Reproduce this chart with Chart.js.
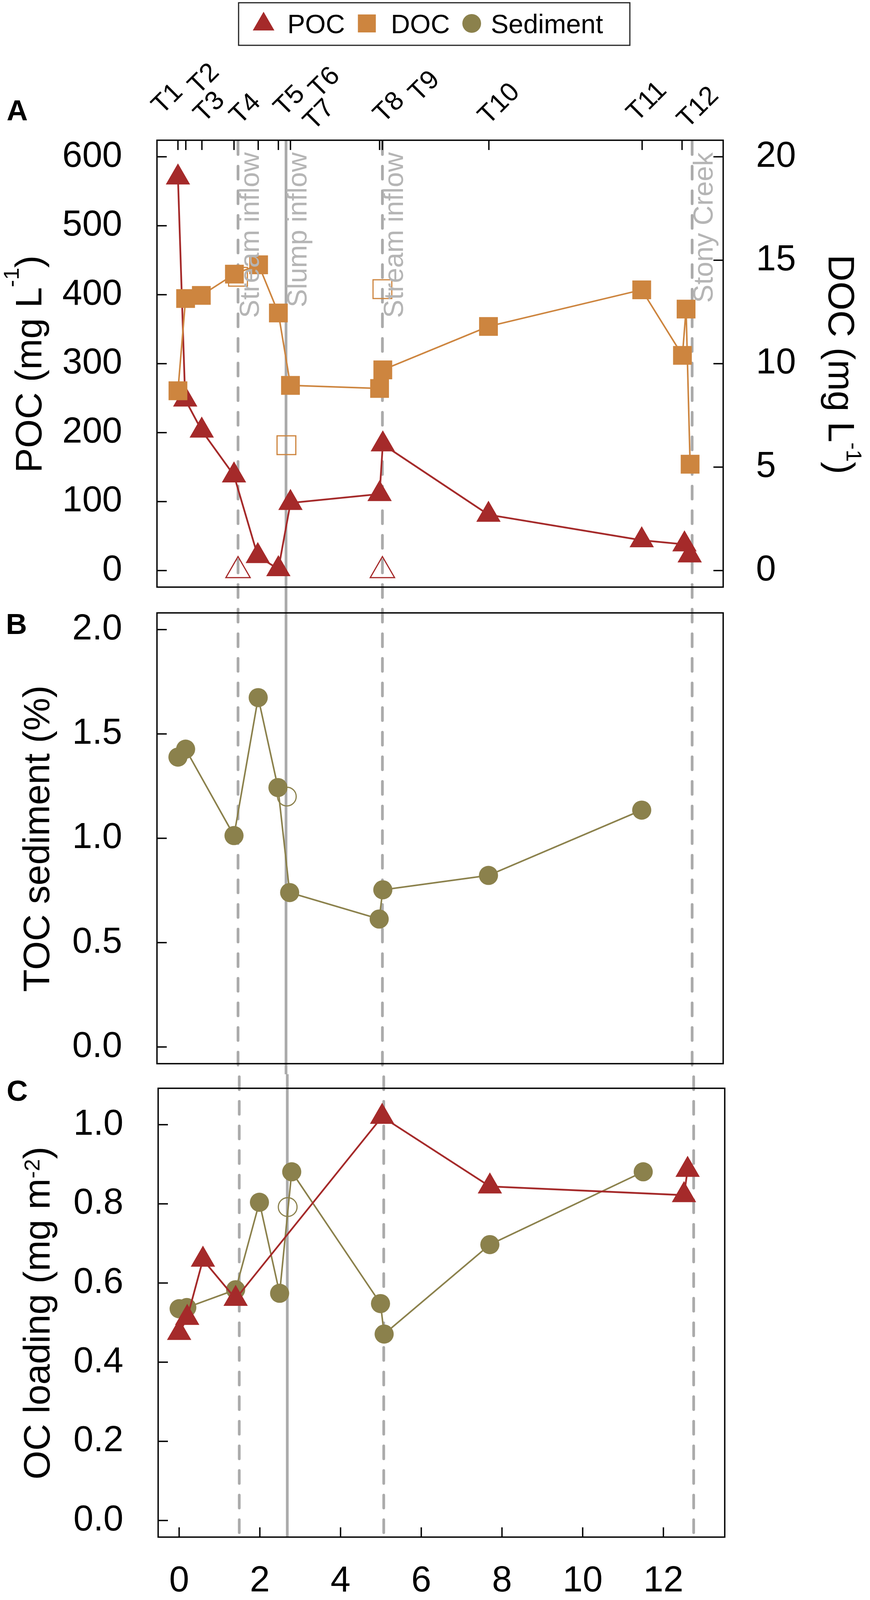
<!DOCTYPE html>
<html>
<head>
<meta charset="utf-8">
<script src="https://cdn.jsdelivr.net/npm/chart.js@4.4.1/dist/chart.umd.min.js"></script>
<style>
  html, body { margin: 0; padding: 0; background: #fff; }
  #fig { position: relative; width: 2228px; height: 4205px; background: #fff; overflow: hidden; }
  #fig canvas { position: absolute; left: 0; }
</style>
</head>
<body>
<div id="fig">
  <canvas id="panelA" width="2228" height="1542" style="top:0px"></canvas>
  <canvas id="panelB" width="2228" height="1208" style="top:1542px"></canvas>
  <canvas id="panelC" width="2228" height="1455" style="top:2750px"></canvas>
</div>
<script>
// ── Sampling sites (top axis of panel A) ──────────
const siteNames = ['T1', 'T2', 'T3', 'T4', 'T5', 'T6', 'T7', 'T8', 'T9', 'T10', 'T11', 'T12'];
const siteKm    = [0.00, 0.195, 0.594, 1.39, 1.99, 2.49, 2.79, 5.00, 5.07, 7.71, 11.51, 12.50];

// ── Inflows (vertical guide lines) ────────────────
const inflowNames = ['Stream inflow', 'Slump inflow', 'Stream inflow', 'Stony Creek'];
const inflowKm    = [1.49, 2.68, 5.07, 12.75];

// ── Panel A: water column ─────────────────────────
const pocKm  = [0.00, 0.18, 0.59, 1.39, 1.98, 2.49, 2.79, 5.00, 5.08, 7.70, 11.50, 12.56, 12.69];
const pocVal = [570, 248, 203, 138, 21, 2, 98, 111, 183, 81, 44, 38, 22];
const pocInflowKm  = [1.49, 5.07];
const pocInflowVal = [0, 0];

const docKm  = [0.00, 0.19, 0.58, 1.40, 2.00, 2.49, 2.79, 5.00, 5.08, 7.70, 11.50, 12.51, 12.60, 12.70];
const docVal = [8.69, 13.15, 13.3, 14.33, 14.78, 12.45, 8.95, 8.80, 9.70, 11.80, 13.57, 10.40, 12.64, 5.14];
const docInflowKm  = [1.49, 2.69, 5.07];
const docInflowVal = [14.2, 6.06, 13.6];

// ── Panel B: sediment TOC ─────────────────────────
const tocKm  = [0.00, 0.19, 1.39, 1.99, 2.48, 2.77, 4.99, 5.08, 7.70, 11.50];
const tocVal = [1.389, 1.427, 1.013, 1.674, 1.243, 0.740, 0.613, 0.753, 0.822, 1.135];
const tocInflowKm  = [2.70];
const tocInflowVal = [1.20];

// ── Panel C: OC loading ───────────────────────────
const pocLoadKm  = [0.00, 0.20, 0.59, 1.40, 5.03, 7.70, 12.51, 12.60];
const pocLoadVal = [0.474, 0.512, 0.659, 0.560, 1.020, 0.844, 0.822, 0.886];
const sedLoadKm  = [0.00, 0.19, 1.40, 1.99, 2.49, 2.79, 4.99, 5.08, 7.70, 11.50];
const sedLoadVal = [0.535, 0.538, 0.583, 0.804, 0.574, 0.881, 0.548, 0.471, 0.697, 0.881];
const sedLoadInflowKm  = [2.69];
const sedLoadInflowVal = [0.792];

// ── Axis ticks ────────────────────────────────────
const kmTicks   = [0, 2, 4, 6, 8, 10, 12];
const pocTicks  = [0, 100, 200, 300, 400, 500, 600];
const docTicks  = [0, 5, 10, 15, 20];
const tocTicks  = [0, 0.5, 1.0, 1.5, 2.0];
const loadTicks = [0, 0.2, 0.4, 0.6, 0.8, 1.0];

const legendLabels = ['POC', 'DOC', 'Sediment'];

// ── Look ──────────────────────────────────────────
const FONT = "'Liberation Sans', Arial, Helvetica, sans-serif";
const C = {
  poc: '#A52A2A', doc: '#CD853F', sed: '#8B814C',
  guide: '#ABABAB', guideText: '#B5B5B5', ink: '#000'
};
const TICK_FONT = 92, TITLE_FONT = 95, SUP_FONT = 56;
const TICK_LEN = 25;
const KM_MIN = -0.52, KM_MAX = 13.52;
const GUIDE_Y0 = 359;                 // page y where the guide dash pattern starts
const guideDashed = [true, false, true, true];

// label placement for the site names (px offsets from the tick / above the box)
const siteLabelDx   = [-26, 47, 20, 30, 81, 119, 74, 25, 108, 27, 13, 42];
const siteLabelLift = [105, 156, 84, 79, 100, 147, 64, 83, 137, 92, 98, 83];

const pts = (xs, ys) => xs.map((x, i) => ({ x, y: ys[i] }));

function fixedTicks(list) {
  return (scale) => { scale.ticks = list.map(v => ({ value: v })); };
}

function yAxis(position, min, max, list, width, fmt) {
  return {
    type: 'linear', position, min, max,
    grid: { display: false, drawTicks: false },
    border: { display: false },
    afterBuildTicks: fixedTicks(list),
    afterFit: (s) => { s.width = width; s.paddingTop = 0; s.paddingBottom = 0; },
    ticks: {
      padding: position === 'left' ? 89 : 84,
      color: C.ink, font: { family: FONT, size: TICK_FONT },
      autoSkip: false,
      callback: fmt || (v => String(v))
    }
  };
}

function xAxis(show) {
  return {
    type: 'linear', position: 'bottom', min: KM_MIN, max: KM_MAX,
    display: show,
    grid: { display: false, drawTicks: false },
    border: { display: false },
    afterBuildTicks: fixedTicks(kmTicks),
    afterFit: (s) => { if (show) s.height = 270; s.paddingLeft = 0; s.paddingRight = 0; },
    ticks: {
      padding: 58, color: C.ink, autoSkip: false, maxRotation: 0,
      font: { family: FONT, size: TICK_FONT },
      callback: v => String(v)
    }
  };
}

function lineSet(data, color, style, radius, yAxisID, width) {
  return {
    data, yAxisID, borderColor: color, backgroundColor: color,
    borderWidth: width || 4, tension: 0,
    pointStyle: style, pointRadius: radius, pointHoverRadius: radius,
    pointBorderWidth: 0, pointBackgroundColor: color
  };
}

function openSet(data, color, style, radius, yAxisID) {
  return {
    data, yAxisID, showLine: false,
    borderColor: color, backgroundColor: 'rgba(0,0,0,0)',
    pointStyle: style, pointRadius: radius, pointHoverRadius: radius,
    pointBorderWidth: 3, pointBorderColor: color, pointBackgroundColor: 'rgba(0,0,0,0)'
  };
}

// text with a raised part, e.g. mg L^-1
function richText(ctx, parts, x, y, angle, raise) {
  ctx.save();
  ctx.translate(x, y);
  ctx.rotate(angle);
  ctx.textAlign = 'left';
  ctx.textBaseline = 'alphabetic';
  const widths = parts.map(p => {
    ctx.font = (p.sup ? SUP_FONT : TITLE_FONT) + 'px ' + FONT;
    return ctx.measureText(p.t).width;
  });
  let cx = -widths.reduce((a, b) => a + b, 0) / 2;
  parts.forEach((p, i) => {
    ctx.font = (p.sup ? SUP_FONT : TITLE_FONT) + 'px ' + FONT;
    ctx.fillText(p.t, cx, p.sup ? -raise : 0);
    cx += widths[i];
  });
  ctx.restore();
}

function marker(ctx, style, x, y, r, color) {
  if (Chart.helpers && Chart.helpers.drawPoint) {
    ctx.fillStyle = color;
    Chart.helpers.drawPoint(ctx, { pointStyle: style, radius: r, rotation: 0, borderWidth: 0 }, x, y);
    return;
  }
  ctx.fillStyle = color;
  ctx.beginPath();
  if (style === 'circle') ctx.arc(x, y, r, 0, Math.PI * 2);
  else if (style === 'rect') { const h = r * Math.SQRT1_2; ctx.rect(x - h, y - h, 2 * h, 2 * h); }
  else {
    ctx.moveTo(x, y - r);
    ctx.lineTo(x + r * Math.sin(2 * Math.PI / 3), y - r * Math.cos(2 * Math.PI / 3));
    ctx.lineTo(x + r * Math.sin(4 * Math.PI / 3), y - r * Math.cos(4 * Math.PI / 3));
    ctx.closePath();
  }
  ctx.fill();
}

// ── Decorations shared by the three panels ────────
function decor(cfg) {
  return {
    id: 'decor' + cfg.name,
    beforeDatasetsDraw(chart) {
      const { ctx, chartArea: a } = chart;
      const x = chart.scales.x;
      const y0 = cfg.guideFromTop ? 0 : a.top;
      const y1 = cfg.guideToBottom ? chart.height : a.bottom;
      ctx.save();
      ctx.strokeStyle = C.guide;
      ctx.lineWidth = 7;
      inflowKm.forEach((km, i) => {
        const px = x.getPixelForValue(km);
        ctx.beginPath();
        if (guideDashed[i]) {
          ctx.setLineDash([33, 30]);
          ctx.lineCap = 'round';
          ctx.lineDashOffset = cfg.pageTop + y0 - GUIDE_Y0;
        } else {
          ctx.setLineDash([]);
          ctx.lineCap = 'butt';
        }
        ctx.moveTo(px, y0 + (guideDashed[i] ? 3.5 : 0));
        ctx.lineTo(px, y1);
        ctx.stroke();
      });
      ctx.restore();
    },
    afterDatasetsDraw(chart) {
      const { ctx, chartArea: a } = chart;
      const x = chart.scales.x;

      // inflow names inside panel A
      if (cfg.inflowText) {
        ctx.save();
        ctx.fillStyle = C.guideText;
        ctx.font = '70px ' + FONT;
        ctx.textAlign = 'right';
        ctx.textBaseline = 'alphabetic';
        inflowKm.forEach((km, i) => {
          ctx.save();
          ctx.translate(x.getPixelForValue(km) + 53, 390);
          ctx.rotate(-Math.PI / 2);
          ctx.fillText(inflowNames[i], 0, 0);
          ctx.restore();
        });
        ctx.restore();
      }

      // box and inward ticks
      ctx.save();
      ctx.strokeStyle = C.ink;
      ctx.lineWidth = 3.5;
      ctx.strokeRect(a.left, a.top, a.right - a.left, a.bottom - a.top);
      Object.values(chart.scales).forEach(s => {
        if (!s.options.display) return;
        s.ticks.forEach(t => {
          const p = s.getPixelForValue(t.value);
          ctx.beginPath();
          if (s.position === 'left') { ctx.moveTo(a.left, p); ctx.lineTo(a.left + TICK_LEN, p); }
          else if (s.position === 'right') { ctx.moveTo(a.right, p); ctx.lineTo(a.right - TICK_LEN, p); }
          else { ctx.moveTo(p, a.bottom); ctx.lineTo(p, a.bottom - TICK_LEN); }
          ctx.stroke();
        });
      });
      if (cfg.siteAxis) {
        siteKm.forEach(km => {
          const p = x.getPixelForValue(km);
          ctx.beginPath();
          ctx.moveTo(p, a.top);
          ctx.lineTo(p, a.top + TICK_LEN);
          ctx.stroke();
        });
        ctx.fillStyle = C.ink;
        ctx.font = '68px ' + FONT;
        ctx.textAlign = 'center';
        ctx.textBaseline = 'middle';
        siteNames.forEach((name, i) => {
          ctx.save();
          ctx.translate(x.getPixelForValue(siteKm[i]) + siteLabelDx[i], a.top - siteLabelLift[i]);
          ctx.rotate(-Math.PI / 4);
          ctx.fillText(name, 0, 0);
          ctx.restore();
        });
      }
      ctx.restore();

      // panel letter
      ctx.save();
      ctx.fillStyle = C.ink;
      ctx.font = 'bold 75px ' + FONT;
      ctx.textAlign = 'left';
      ctx.textBaseline = 'alphabetic';
      ctx.fillText(cfg.letter, cfg.letterX, cfg.letterY);
      ctx.restore();

      // axis titles
      ctx.fillStyle = C.ink;
      const mid = (a.top + a.bottom) / 2;
      richText(ctx, cfg.leftTitle, cfg.leftTitleX, mid + 1, -Math.PI / 2, cfg.leftRaise || 0);
      if (cfg.rightTitle) richText(ctx, cfg.rightTitle, 2122, mid + 2, Math.PI / 2, cfg.rightRaise || 0);
      if (cfg.bottomTitle) {
        ctx.save();
        ctx.font = TITLE_FONT + 'px ' + FONT;
        ctx.textAlign = 'center';
        ctx.textBaseline = 'alphabetic';
        ctx.fillText(cfg.bottomTitle, (a.left + a.right) / 2, chart.height - 13);
        ctx.restore();
      }

      // legend
      if (cfg.legend) {
        ctx.save();
        ctx.strokeStyle = '#222';
        ctx.lineWidth = 3;
        ctx.strokeRect(611, 7, 1002, 109);
        marker(ctx, 'triangle', 675, 62, 32, C.poc);
        marker(ctx, 'rect', 939.5, 60, 32.5, C.doc);
        marker(ctx, 'circle', 1208, 60, 24, C.sed);
        ctx.fillStyle = C.ink;
        ctx.font = '68px ' + FONT;
        ctx.textAlign = 'left';
        ctx.textBaseline = 'alphabetic';
        ctx.fillText(legendLabels[0], 736, 85);
        ctx.fillText(legendLabels[1], 1001, 85);
        ctx.fillText(legendLabels[2], 1257, 85);
        ctx.restore();
      }
    }
  };
}

const baseOptions = (padding, scales) => ({
  responsive: false,
  devicePixelRatio: 1,
  animation: false,
  events: [],
  layout: { padding },
  plugins: { legend: { display: false }, tooltip: { enabled: false } },
  scales
});

// ── Panel A ───────────────────────────────────────
new Chart(document.getElementById('panelA'), {
  type: 'line',
  data: {
    datasets: [
      lineSet(pts(docKm, docVal), C.doc, 'rect', 34, 'yDoc', 4),
      lineSet(pts(pocKm, pocVal), C.poc, 'triangle', 36, 'yPoc', 4.5),
      openSet(pts(docInflowKm, docInflowVal), C.doc, 'rect', 34, 'yDoc'),
      openSet(pts(pocInflowKm, pocInflowVal), C.poc, 'triangle', 36, 'yPoc')
    ]
  },
  options: baseOptions({ top: 359, bottom: 22, left: 0, right: 0 }, {
    x: xAxis(false),
    yPoc: yAxis('left', -24, 624, pocTicks, 402),
    yDoc: yAxis('right', -0.8, 20.8, docTicks, 376)
  }),
  plugins: [decor({
    name: 'A', pageTop: 0, guideFromTop: false, guideToBottom: true,
    inflowText: true, siteAxis: true, legend: true,
    letter: 'A', letterX: 17, letterY: 308,
    leftTitle: [{ t: 'POC (mg L' }, { t: '-1', sup: true }, { t: ')' }], leftTitleX: 106, leftRaise: 58,
    rightTitle: [{ t: 'DOC (mg L' }, { t: '-1', sup: true }, { t: ')' }], rightRaise: 46
  })]
});

// ── Panel B ───────────────────────────────────────
new Chart(document.getElementById('panelB'), {
  type: 'line',
  data: {
    datasets: [
      lineSet(pts(tocKm, tocVal), C.sed, 'circle', 24.5, 'y', 4),
      openSet(pts(tocInflowKm, tocInflowVal), C.sed, 'circle', 24, 'y')
    ]
  },
  options: baseOptions({ top: 23, bottom: 26, left: 0, right: 376 }, {
    x: xAxis(false),
    y: yAxis('left', -0.08, 2.08, tocTicks, 402, v => v.toFixed(1))
  }),
  plugins: [decor({
    name: 'B', pageTop: 1542, guideFromTop: true, guideToBottom: true,
    letter: 'B', letterX: 15, letterY: 81,
    leftTitle: [{ t: 'TOC sediment (%)' }], leftTitleX: 126
  })]
});

// ── Panel C ───────────────────────────────────────
new Chart(document.getElementById('panelC'), {
  type: 'line',
  data: {
    datasets: [
      lineSet(pts(pocLoadKm, pocLoadVal), C.poc, 'triangle', 36, 'y', 4.5),
      lineSet(pts(sedLoadKm, sedLoadVal), C.sed, 'circle', 24.5, 'y', 4),
      openSet(pts(sedLoadInflowKm, sedLoadInflowVal), C.sed, 'circle', 24, 'y')
    ]
  },
  options: baseOptions({ top: 26, bottom: 0, left: 0, right: 372 }, {
    x: xAxis(true),
    y: yAxis('left', -0.042, 1.092, loadTicks, 405, v => v.toFixed(1))
  }),
  plugins: [decor({
    name: 'C', pageTop: 2750, guideFromTop: true, guideToBottom: false,
    letter: 'C', letterX: 17, letterY: 68,
    leftTitle: [{ t: 'OC loading (mg m' }, { t: '-2', sup: true }, { t: ')' }], leftTitleX: 127, leftRaise: 26,
    bottomTitle: 'km'
  })]
});
</script>
</body>
</html>
